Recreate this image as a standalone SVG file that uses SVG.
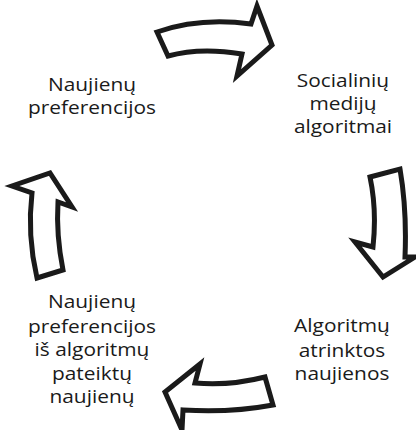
<svg xmlns="http://www.w3.org/2000/svg" width="416" height="430" viewBox="0 0 416 430">
<style>
.lbl{font-family:"Open Sans","Noto Sans","Liberation Sans",sans-serif;font-size:18.5px;fill:#1a1a1a;text-anchor:middle}
.arr{fill:#fff;stroke:#1a1a1a;stroke-width:5;stroke-linejoin:miter;stroke-miterlimit:10}
</style>
<rect width="416" height="430" fill="#fff"/>
<g id="connectors">
<path class="arr" d="M157,32 Q200,17 251,24 L257,6 L272,45 L237,76 L242,54 Q200,47 168,56 Z"/>
<path class="arr" d="M370,177 L400,169 Q407,210 405,257 L415,257 L383,277 L355,242 L373,247 Q377,210 370,177 Z"/>
<path class="arr" d="M265,377 L273,405 Q230,413 183,410 L182,430 L165,392 L200,364 L195,383 Q230,386 265,377 Z"/>
<path class="arr" d="M37,278 L63,270 Q56,235 58,202 L72,207 L50,173 L12,186 L32,193 Q27,235 37,278 Z"/>
</g>
<g id="n1" transform="translate(92,0) scale(1.13,1)"><text class="lbl" x="0" y="91">Naujienų</text><text class="lbl" x="0" y="114.5">preferencijos</text></g>
<g id="n2" transform="translate(343,0) scale(1.13,1)"><text class="lbl" x="0" y="87">Socialinių</text><text class="lbl" x="0" y="110">medijų</text><text class="lbl" x="0" y="133">algoritmai</text></g>
<g id="n3" transform="translate(342,0) scale(1.13,1)"><text class="lbl" x="0" y="332">Algoritmų</text><text class="lbl" x="0" y="357">atrinktos</text><text class="lbl" x="0" y="380">naujienos</text></g>
<g id="n4" transform="translate(92,0) scale(1.13,1)"><text class="lbl" x="0" y="308">Naujienų</text><text class="lbl" x="0" y="333">preferencijos</text><text class="lbl" x="0" y="356">iš algoritmų</text><text class="lbl" x="0" y="380">pateiktų</text><text class="lbl" x="0" y="403">naujienų</text></g>
</svg>
